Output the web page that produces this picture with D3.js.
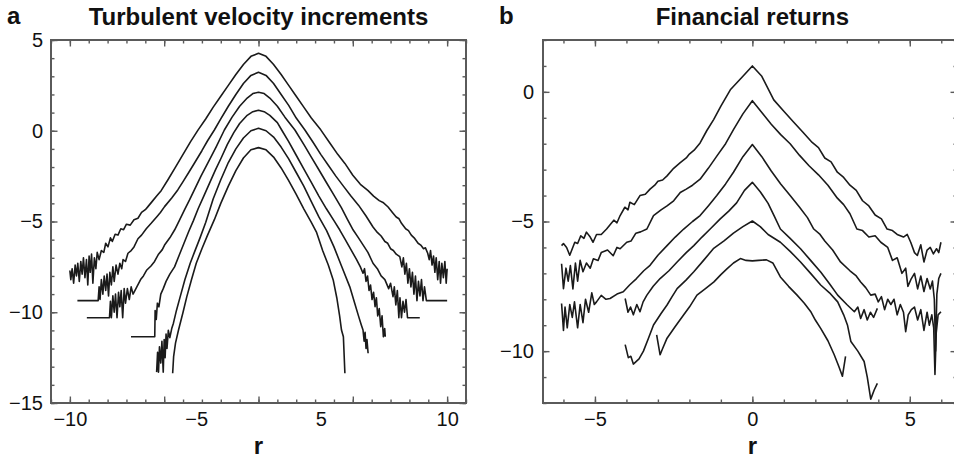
<!DOCTYPE html>
<html><head><meta charset="utf-8">
<script src="https://cdn.jsdelivr.net/npm/d3@7"></script>
<style>body{margin:0;background:#fff}svg{display:block}</style>
</head><body>
<svg id="chart" width="954" height="460"></svg>
<script>
// ---------- Panel a: turbulent velocity increments (log PDF, shifted) ----------
const turb1 = [[-10.0,-7.7],[-9.95,-8.2],[-9.88,-7.6],[-9.8,-8.4],[-9.72,-7.4],[-9.65,-8.0],[-9.58,-7.3],[-9.5,-8.3],[-9.42,-7.2],[-9.35,-7.9],[-9.28,-7.0],[-9.2,-8.1],[-9.12,-7.1],[-9.05,-8.5],[-8.98,-6.9],[-8.92,-7.8],[-8.85,-6.8],[-8.78,-8.4],[-8.7,-7.0],[-8.62,-7.6],[-8.55,-6.7],[-8.45,-7.1],[-8.33,-6.6],[-8.2,-6.7],[-8.1,-6.2],[-7.98,-6.4],[-7.85,-5.9],[-7.75,-6.1],[-7.6,-5.7],[-7.45,-5.75],[-7.3,-5.4],[-7.15,-5.45],[-7.0,-5.15],[-6.8,-5.2],[-6.6,-4.9],[-6.39,-4.82],[-6.2,-4.5],[-6.0,-4.35],[-5.86,-4.18],[-5.6,-3.85],[-5.4,-3.6],[-5.16,-3.3],[-4.8,-2.7],[-4.4,-2.0],[-4.0,-1.3],[-3.6,-0.6],[-3.2,0.05],[-2.8,0.65],[-2.4,1.3],[-2.0,1.9],[-1.6,2.5],[-1.2,3.1],[-0.8,3.65],[-0.4,4.1],[0,4.27],[0.4,4.1],[0.8,3.65],[1.2,3.1],[1.6,2.5],[2.0,1.9],[2.4,1.3],[2.8,0.7],[3.3,0.05],[3.8,-0.7],[4.2,-1.3],[4.58,-1.8],[5.0,-2.45],[5.4,-2.95],[5.81,-3.3],[6.1,-3.6],[6.4,-3.85],[6.6,-3.95],[6.87,-4.2],[7.1,-4.5],[7.3,-4.75],[7.45,-4.85],[7.58,-5.1],[7.8,-5.4],[7.95,-5.5],[8.1,-5.75],[8.25,-5.9],[8.46,-6.2],[8.6,-6.3],[8.75,-6.5],[8.85,-6.45],[8.97,-6.75],[9.05,-7.1],[9.12,-6.6],[9.2,-7.4],[9.28,-6.9],[9.35,-7.8],[9.42,-7.0],[9.5,-8.2],[9.58,-7.2],[9.65,-8.4],[9.72,-7.3],[9.8,-8.1],[9.88,-7.2],[9.95,-8.4],[10.0,-7.6]];
const turb2 = [[-9.6,-9.36],[-8.5,-9.36],[-8.45,-8.6],[-8.4,-9.3],[-8.33,-8.2],[-8.25,-9.0],[-8.18,-8.0],[-8.1,-8.8],[-8.03,-7.9],[-7.95,-9.1],[-7.88,-7.8],[-7.8,-8.5],[-7.72,-7.5],[-7.65,-8.3],[-7.55,-7.4],[-7.45,-7.9],[-7.35,-7.3],[-7.25,-7.6],[-7.18,-7.1],[-7.05,-7.2],[-6.92,-6.75],[-6.75,-6.6],[-6.6,-6.4],[-6.39,-5.95],[-6.2,-5.75],[-5.95,-5.4],[-5.69,-5.1],[-5.4,-4.75],[-5.2,-4.5],[-4.98,-4.18],[-4.6,-3.7],[-4.28,-3.26],[-4.0,-2.8],[-3.7,-2.3],[-3.4,-1.79],[-3.0,-1.1],[-2.7,-0.55],[-2.34,0.04],[-2.0,0.65],[-1.6,1.35],[-1.2,2.0],[-0.8,2.6],[-0.4,3.05],[0,3.22],[0.4,3.05],[0.8,2.6],[1.2,2.0],[1.6,1.4],[2.0,0.7],[2.46,0.04],[2.9,-0.65],[3.3,-1.3],[3.7,-1.9],[4.1,-2.5],[4.5,-3.05],[4.9,-3.6],[5.3,-4.1],[5.7,-4.7],[6.07,-5.3],[6.3,-5.6],[6.5,-5.8],[6.7,-6.1],[6.85,-6.2],[7.0,-6.5],[7.15,-6.6],[7.3,-6.8],[7.49,-6.94],[7.6,-7.5],[7.68,-7.0],[7.76,-7.9],[7.84,-7.3],[7.92,-8.4],[8.0,-7.6],[8.08,-8.6],[8.16,-7.8],[8.24,-9.0],[8.32,-8.0],[8.4,-9.36],[8.48,-8.3],[8.56,-9.1],[8.64,-8.2],[8.72,-9.36],[8.8,-8.6],[8.9,-9.36],[10.0,-9.36]];
const turb3 = [[-9.1,-10.3],[-7.9,-10.3],[-7.85,-9.4],[-7.8,-10.3],[-7.72,-9.1],[-7.65,-10.0],[-7.58,-9.0],[-7.5,-10.3],[-7.42,-8.9],[-7.35,-9.7],[-7.28,-8.8],[-7.2,-10.3],[-7.12,-8.7],[-7.05,-9.5],[-6.95,-8.7],[-6.85,-9.3],[-6.75,-8.6],[-6.65,-9.0],[-6.45,-8.6],[-6.25,-8.2],[-6.1,-8.0],[-5.92,-7.67],[-5.7,-7.45],[-5.51,-7.2],[-5.3,-6.8],[-5.1,-6.55],[-4.98,-6.3],[-4.7,-5.9],[-4.45,-5.47],[-4.2,-4.95],[-3.93,-4.37],[-3.65,-3.8],[-3.4,-3.26],[-3.05,-2.5],[-2.69,-1.79],[-2.25,-0.9],[-1.81,0.04],[-1.4,0.75],[-1.0,1.35],[-0.6,1.8],[-0.3,2.05],[0,2.12],[0.3,2.05],[0.6,1.8],[1.0,1.35],[1.4,0.75],[1.93,0.04],[2.4,-0.75],[2.8,-1.45],[3.2,-2.15],[3.6,-2.85],[4.0,-3.55],[4.4,-4.25],[4.7,-4.85],[5.02,-5.47],[5.3,-5.9],[5.55,-6.3],[5.8,-6.7],[6.07,-7.3],[6.3,-7.6],[6.5,-8.0],[6.7,-8.2],[6.9,-8.7],[7.0,-8.4],[7.13,-9.14],[7.2,-8.6],[7.28,-9.6],[7.36,-8.8],[7.44,-10.3],[7.5,-9.2],[7.58,-10.3],[7.66,-9.4],[7.74,-10.0],[7.82,-9.3],[7.9,-10.3],[8.55,-10.3]];
const turb4 = [[-6.76,-11.35],[-5.5,-11.35],[-5.48,-9.9],[-5.42,-10.4],[-5.36,-9.5],[-5.28,-9.7],[-5.18,-9.0],[-5.05,-8.7],[-4.9,-8.3],[-4.7,-7.9],[-4.45,-7.5],[-4.2,-6.85],[-3.95,-6.2],[-3.7,-5.55],[-3.45,-4.95],[-3.2,-4.3],[-2.9,-3.6],[-2.6,-2.9],[-2.3,-2.2],[-1.98,-1.5],[-1.65,-0.75],[-1.31,-0.1],[-1.0,0.4],[-0.6,0.85],[-0.3,1.05],[0,1.13],[0.3,1.05],[0.6,0.85],[1.0,0.45],[1.23,0.04],[1.6,-0.6],[2.0,-1.35],[2.4,-2.1],[2.8,-2.85],[3.2,-3.6],[3.6,-4.3],[4.0,-4.95],[4.31,-5.47],[4.6,-6.0],[4.9,-6.55],[5.2,-7.1],[5.4,-7.5],[5.54,-7.85],[5.62,-7.6],[5.7,-8.3],[5.78,-8.0],[5.86,-8.8],[5.94,-8.5],[6.02,-9.3],[6.1,-8.9],[6.18,-9.69],[6.25,-9.2],[6.32,-10.2],[6.4,-9.8],[6.48,-10.8],[6.55,-10.2],[6.62,-11.35],[6.69,-10.9],[6.72,-11.35]];
const turb5 = [[-5.4,-13.3],[-5.35,-12.2],[-5.3,-13.3],[-5.25,-11.9],[-5.18,-12.8],[-5.12,-11.6],[-5.05,-13.3],[-5.0,-11.5],[-4.95,-12.5],[-4.9,-11.2],[-4.85,-12.0],[-4.78,-11.0],[-4.7,-11.4],[-4.6,-10.9],[-4.51,-10.6],[-4.35,-9.9],[-4.15,-9.14],[-3.9,-8.2],[-3.62,-7.3],[-3.4,-6.7],[-3.1,-5.9],[-2.8,-5.05],[-2.4,-3.75],[-2.0,-2.7],[-1.6,-1.75],[-1.2,-1.0],[-0.8,-0.4],[-0.4,0.0],[0,0.14],[0.4,0.0],[0.8,-0.35],[1.2,-0.9],[1.6,-1.55],[2.0,-2.3],[2.4,-3.05],[2.8,-3.9],[3.2,-4.75],[3.61,-5.5],[4.0,-6.4],[4.4,-7.45],[4.84,-8.6],[5.1,-9.5],[5.3,-10.2],[5.45,-10.7],[5.54,-10.98],[5.6,-11.6],[5.65,-11.1],[5.7,-12.0],[5.75,-11.5],[5.81,-12.26]];
const turb6 = [[-4.55,-13.36],[-4.5,-12.45],[-4.4,-11.7],[-4.24,-10.98],[-4.0,-10.0],[-3.8,-9.14],[-3.55,-8.2],[-3.3,-7.3],[-3.0,-6.5],[-2.7,-5.75],[-2.34,-4.9],[-2.0,-4.0],[-1.6,-3.05],[-1.2,-2.2],[-0.8,-1.5],[-0.4,-1.05],[0,-0.93],[0.4,-1.05],[0.8,-1.45],[1.2,-2.05],[1.6,-2.75],[2.0,-3.5],[2.4,-4.3],[2.8,-5.05],[3.08,-5.6],[3.4,-6.6],[3.7,-7.4],[3.96,-8.22],[4.15,-9.2],[4.3,-10.2],[4.4,-10.98],[4.5,-11.35],[4.58,-13.36]];
const turbXTickLabels = [-10, -5, 5, 10];
const turbYTickLabels = [5, 0, -5, -10, -15];

// ---------- Panel b: financial returns (log PDF, shifted) ----------
const fin1 = [[-6.06,-5.93],[-6.0,-5.85],[-5.9,-6.0],[-5.8,-6.3],[-5.72,-6.05],[-5.64,-5.8],[-5.55,-5.85],[-5.45,-5.55],[-5.35,-5.65],[-5.27,-5.41],[-5.15,-5.6],[-5.06,-5.8],[-4.95,-5.5],[-4.8,-5.5],[-4.63,-5.29],[-4.5,-5.1],[-4.4,-4.95],[-4.3,-5.05],[-4.2,-4.77],[-4.05,-4.45],[-3.95,-4.55],[-3.89,-4.26],[-3.75,-4.35],[-3.57,-4.0],[-3.4,-3.95],[-3.25,-3.75],[-3.1,-3.6],[-3.0,-3.45],[-2.85,-3.4],[-2.71,-3.24],[-2.5,-2.95],[-2.29,-2.73],[-2.1,-2.55],[-2.0,-2.4],[-1.85,-2.25],[-1.66,-1.97],[-1.45,-1.5],[-1.23,-1.07],[-1.0,-0.55],[-0.7,0.08],[-0.3,0.6],[0,1.0],[0.3,0.6],[0.68,-0.31],[1.0,-0.75],[1.3,-1.15],[1.6,-1.55],[1.9,-1.95],[2.1,-2.15],[2.3,-2.55],[2.5,-2.7],[2.7,-3.1],[2.9,-3.3],[3.1,-3.6],[3.3,-3.8],[3.5,-4.2],[3.7,-4.4],[3.9,-4.75],[4.1,-4.9],[4.28,-5.29],[4.45,-5.35],[4.6,-5.5],[4.8,-5.6],[4.92,-5.5],[5.03,-5.8],[5.15,-6.2],[5.24,-6.31],[5.35,-5.9],[5.45,-6.56],[5.55,-6.1],[5.65,-6.0],[5.75,-6.25],[5.85,-6.05],[5.92,-6.2],[5.99,-5.8]];
const fin2 = [[-6.06,-6.63],[-6.0,-7.59],[-5.92,-6.8],[-5.85,-7.3],[-5.78,-6.7],[-5.7,-7.6],[-5.62,-6.6],[-5.55,-7.3],[-5.47,-6.5],[-5.38,-6.94],[-5.27,-6.6],[-5.15,-6.8],[-5.05,-6.44],[-4.9,-6.5],[-4.8,-6.2],[-4.6,-6.1],[-4.42,-6.32],[-4.3,-6.0],[-4.2,-6.05],[-3.99,-5.8],[-3.85,-5.75],[-3.7,-5.45],[-3.55,-5.4],[-3.35,-5.29],[-3.14,-4.77],[-2.9,-4.55],[-2.71,-4.4],[-2.5,-4.2],[-2.29,-3.88],[-2.1,-3.75],[-1.9,-3.6],[-1.66,-3.37],[-1.4,-2.95],[-1.13,-2.48],[-0.85,-2.0],[-0.6,-1.46],[-0.3,-0.85],[0,-0.34],[0.3,-0.8],[0.6,-1.25],[0.9,-1.65],[1.2,-2.0],[1.5,-2.45],[1.8,-2.85],[2.1,-3.2],[2.4,-3.6],[2.7,-4.1],[2.9,-4.35],[3.1,-4.7],[3.32,-5.29],[3.5,-5.35],[3.7,-5.6],[3.9,-5.55],[4.08,-5.8],[4.3,-6.0],[4.45,-6.5],[4.6,-6.4],[4.75,-7.0],[4.87,-6.8],[4.94,-7.5],[5.05,-7.2],[5.15,-7.0],[5.25,-7.6],[5.35,-7.1],[5.45,-7.7],[5.55,-7.2],[5.65,-7.6],[5.72,-7.3],[5.78,-8.0],[5.82,-10.0],[5.86,-7.8],[5.92,-7.2],[5.99,-7.0]];
const fin3 = [[-6.06,-8.16],[-6.0,-9.2],[-5.95,-8.3],[-5.88,-9.1],[-5.8,-8.2],[-5.72,-8.7],[-5.65,-8.1],[-5.55,-9.1],[-5.47,-8.2],[-5.38,-8.9],[-5.3,-8.0],[-5.2,-8.5],[-5.1,-7.75],[-5.02,-8.2],[-4.95,-8.1],[-4.8,-7.85],[-4.65,-8.0],[-4.52,-7.97],[-4.3,-7.8],[-4.1,-7.71],[-3.9,-7.45],[-3.68,-7.2],[-3.45,-6.9],[-3.25,-6.69],[-3.0,-6.3],[-2.71,-5.93],[-2.45,-5.6],[-2.18,-5.29],[-1.9,-5.0],[-1.66,-4.77],[-1.4,-4.4],[-1.13,-4.0],[-0.85,-3.55],[-0.6,-3.1],[-0.3,-2.5],[0,-2.03],[0.3,-2.5],[0.6,-3.05],[0.9,-3.55],[1.2,-4.0],[1.5,-4.45],[1.75,-4.85],[1.95,-5.29],[2.15,-5.5],[2.3,-5.75],[2.55,-6.1],[2.8,-6.56],[3.1,-6.9],[3.3,-7.1],[3.44,-7.33],[3.6,-7.55],[3.76,-7.84],[3.9,-7.8],[4.0,-8.1],[4.1,-7.9],[4.2,-8.4],[4.3,-8.0],[4.4,-8.2],[4.5,-8.0],[4.6,-8.6],[4.7,-8.2],[4.8,-8.5],[4.87,-9.25],[4.95,-8.6],[5.05,-8.4],[5.15,-8.3],[5.25,-8.8],[5.35,-8.4],[5.45,-9.2],[5.55,-8.5],[5.62,-9.0],[5.7,-8.6],[5.76,-9.1],[5.8,-10.9],[5.84,-9.3],[5.9,-8.6],[5.99,-8.48]];
const fin4 = [[-4.04,-7.97],[-3.95,-8.5],[-3.87,-8.3],[-3.78,-8.6],[-3.67,-8.2],[-3.57,-8.48],[-3.47,-8.1],[-3.35,-7.84],[-3.15,-7.5],[-2.93,-7.2],[-2.65,-6.9],[-2.39,-6.56],[-2.1,-6.2],[-1.86,-5.93],[-1.6,-5.6],[-1.34,-5.29],[-1.02,-4.9],[-0.75,-4.6],[-0.5,-4.28],[-0.25,-3.8],[0,-3.49],[0.25,-3.85],[0.5,-4.3],[0.7,-4.8],[0.89,-5.29],[1.2,-5.65],[1.53,-6.05],[1.85,-6.5],[2.17,-6.95],[2.45,-7.4],[2.71,-7.84],[3.0,-8.2],[3.24,-8.48],[3.35,-8.3],[3.44,-8.74],[3.55,-8.4],[3.65,-8.8],[3.75,-8.5],[3.85,-8.7],[3.97,-8.35]];
const fin5 = [[-4.04,-9.75],[-3.94,-10.25],[-3.86,-10.2],[-3.78,-10.5],[-3.6,-10.3],[-3.46,-10.0],[-3.3,-9.5],[-3.14,-8.99],[-2.9,-8.55],[-2.71,-8.22],[-2.55,-7.9],[-2.39,-7.59],[-2.1,-7.25],[-1.86,-6.94],[-1.55,-6.5],[-1.24,-6.05],[-0.9,-5.75],[-0.6,-5.45],[-0.3,-5.2],[0,-4.98],[0.25,-5.2],[0.5,-5.5],[0.89,-5.8],[1.2,-6.15],[1.53,-6.56],[1.85,-7.0],[2.17,-7.45],[2.45,-7.75],[2.71,-8.1],[2.9,-8.6],[3.02,-8.99],[3.13,-9.63],[3.35,-10.0],[3.55,-10.4],[3.65,-11.0],[3.76,-11.85],[3.87,-11.5],[3.97,-11.24]];
const fin6 = [[-3.04,-9.37],[-2.93,-10.14],[-2.85,-9.9],[-2.71,-9.5],[-2.45,-9.05],[-2.18,-8.6],[-2.0,-8.3],[-1.76,-7.84],[-1.5,-7.6],[-1.22,-7.33],[-1.0,-7.05],[-0.8,-6.82],[-0.6,-6.6],[-0.38,-6.43],[-0.2,-6.5],[0,-6.52],[0.2,-6.5],[0.45,-6.48],[0.65,-6.6],[0.89,-7.14],[1.15,-7.5],[1.42,-7.84],[1.65,-8.15],[1.85,-8.47],[2.0,-8.8],[2.17,-9.12],[2.4,-9.6],[2.6,-10.14],[2.75,-10.6],[2.86,-10.97],[2.96,-10.2]];
const finXTickLabels = [-5, 0, 5];
const finYTickLabels = [0, -5, -10];

// ---------- drawing ----------
const FONT = '"Liberation Sans", Arial, Helvetica, sans-serif';
const FRAME = '#5a5a5a';
const svg = d3.select('#chart');
const fmt = d3.format('d');

function drawPanel(o) {
  const x = d3.scaleLinear().domain(o.xDomain).range(o.xRange);
  const y = d3.scaleLinear().domain(o.yDomain).range(o.yRange);
  const [x0, x1] = o.xRange, [yb, yt] = o.yRange;
  const g = svg.append('g');

  g.append('clipPath').attr('id', o.id + '-clip').append('rect')
    .attr('x', x0).attr('y', yt).attr('width', x1 - x0).attr('height', yb - yt);

  const line = d3.line().x(d => x(d[0])).y(d => y(d[1]));
  g.append('g').attr('clip-path', `url(#${o.id}-clip)`)
    .selectAll('path').data(o.series).join('path')
    .attr('d', line).attr('fill', 'none').attr('stroke', '#1a1a1a')
    .attr('stroke-width', 1.6).attr('stroke-linejoin', 'round');

  const minorX = d3.range(Math.ceil(o.xDomain[0]), Math.floor(o.xDomain[1]) + 1);
  const minorY = d3.range(Math.ceil(o.yDomain[0]), Math.floor(o.yDomain[1]) + 1);
  const majorX = minorX.filter(v => v % 5 === 0);
  const majorY = minorY.filter(v => v % 5 === 0);

  function axis(gen, tr, vals, size, labels, pad) {
    const a = g.append('g').attr('transform', tr)
      .call(gen.tickValues(vals).tickSize(-size).tickSizeOuter(0).tickPadding(pad || 0)
        .tickFormat(d => labels && labels.includes(d) ? fmt(d) : ''));
    a.select('.domain').remove();
    a.selectAll('line').attr('stroke', FRAME).attr('stroke-width', 1.4);
    a.selectAll('text').attr('font-family', FONT).attr('font-size', 20).attr('fill', '#111');
    return a;
  }
  // minor ticks on all four sides
  axis(d3.axisBottom(x), `translate(0,${yb})`, minorX, 3.5);
  axis(d3.axisTop(x), `translate(0,${yt})`, minorX, 3.5);
  axis(d3.axisLeft(y), `translate(${x0},0)`, minorY, 3.5);
  axis(d3.axisRight(y), `translate(${x1},0)`, minorY, 3.5);
  // major ticks (+ labels on bottom / left)
  const bx = axis(d3.axisBottom(x), `translate(0,${yb})`, majorX, 6.5, o.xLabels, 9);
  if (o.xLabelShift) bx.selectAll('text').attr('dx', d => o.xLabelShift[d] || 0);
  axis(d3.axisTop(x), `translate(0,${yt})`, majorX, 6.5);
  axis(d3.axisLeft(y), `translate(${x0},0)`, majorY, 6.5, o.yLabels, o.yPad);
  axis(d3.axisRight(y), `translate(${x1},0)`, majorY, 6.5);

  g.append('rect').attr('x', x0).attr('y', yt).attr('width', x1 - x0).attr('height', yb - yt)
    .attr('fill', 'none').attr('stroke', FRAME).attr('stroke-width', 2);

  // titles / labels
  g.append('text').attr('x', x(0)).attr('y', 25).attr('text-anchor', 'middle')
    .attr('font-family', FONT).attr('font-weight', 'bold').attr('font-size', 24).attr('fill', '#111')
    .text(o.title);
  g.append('text').attr('x', o.letterX).attr('y', 24)
    .attr('font-family', FONT).attr('font-weight', 'bold').attr('font-size', 24).attr('fill', '#111')
    .text(o.letter);
  g.append('text').attr('x', x(0)).attr('y', 454).attr('text-anchor', 'middle')
    .attr('font-family', FONT).attr('font-weight', 'bold').attr('font-size', 24).attr('fill', '#111')
    .text('r');
}

drawPanel({
  id: 'pa', letter: 'a', letterX: 7, title: 'Turbulent velocity increments',
  xDomain: [-11, 11], xRange: [51, 466], yDomain: [-15, 5], yRange: [403, 40],
  series: [turb1, turb2, turb3, turb4, turb5, turb6],
  xLabels: turbXTickLabels, yLabels: turbYTickLabels, yPad: 8,
  xLabelShift: { '-5': 32, '5': -32 }
});
drawPanel({
  id: 'pb', letter: 'b', letterX: 499, title: 'Financial returns',
  xDomain: [-6.65, 6.5], xRange: [543, 957], yDomain: [-12, 2], yRange: [403, 40],
  series: [fin1, fin2, fin3, fin4, fin5, fin6],
  xLabels: finXTickLabels, yLabels: finYTickLabels, yPad: 9
});
</script>
</body></html>
